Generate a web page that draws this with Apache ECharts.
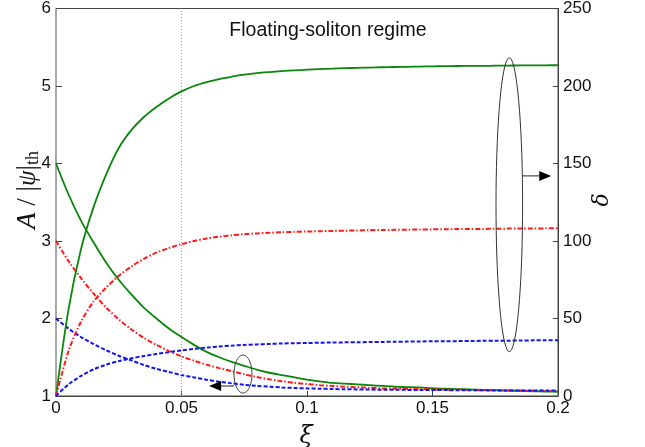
<!DOCTYPE html>
<html>
<head>
<meta charset="utf-8">
<title>Floating-soliton regime</title>
<script src="https://cdn.jsdelivr.net/npm/echarts@6/dist/echarts.min.js"></script>
<style>
  html, body { margin: 0; padding: 0; background: #fff; }
  #chart { width: 645px; height: 447px; }
</style>
</head>
<body>
<div id="chart"></div>
<script>
// Normalised detuning ξ
const xi = [0, 0.005, 0.01, 0.015, 0.02, 0.025, 0.03, 0.035, 0.04, 0.045,
            0.05, 0.055, 0.06, 0.065, 0.07, 0.075, 0.08, 0.085, 0.09, 0.095,
            0.1, 0.105, 0.11, 0.115, 0.12, 0.125, 0.13, 0.135, 0.14, 0.145,
            0.15, 0.155, 0.16, 0.165, 0.17, 0.175, 0.18, 0.185, 0.19, 0.195, 0.2];

// Amplitude A/|ψ|th (left axis)
const ampGreen = [4.00, 3.60, 3.26, 2.98, 2.72, 2.50, 2.31, 2.14, 2.00, 1.87,
                  1.76, 1.66, 1.57, 1.50, 1.44, 1.39, 1.34, 1.30, 1.27, 1.24,
                  1.21, 1.19, 1.17, 1.16, 1.15, 1.14, 1.13, 1.12, 1.115, 1.11,
                  1.10, 1.095, 1.09, 1.085, 1.08, 1.075, 1.07, 1.065, 1.06, 1.058, 1.055];
const ampRed   = [3.00, 2.74, 2.52, 2.32, 2.14, 1.99, 1.86, 1.75, 1.66, 1.58,
                  1.51, 1.455, 1.405, 1.36, 1.32, 1.28, 1.245, 1.215, 1.19, 1.17,
                  1.155, 1.14, 1.13, 1.12, 1.113, 1.106, 1.10, 1.096, 1.092, 1.088,
                  1.085, 1.082, 1.08, 1.078, 1.075, 1.073, 1.071, 1.07, 1.068, 1.066, 1.065];
const ampBlue  = [2.00, 1.87, 1.76, 1.67, 1.59, 1.52, 1.46, 1.40, 1.35, 1.31,
                  1.27, 1.24, 1.21, 1.185, 1.163, 1.145, 1.13, 1.12, 1.11, 1.104,
                  1.098, 1.094, 1.09, 1.087, 1.085, 1.083, 1.081, 1.08, 1.079, 1.078,
                  1.077, 1.076, 1.075, 1.074, 1.073, 1.072, 1.071, 1.071, 1.07, 1.07, 1.07];

// δ (right axis)
const deltaGreen = [0, 56, 95, 122, 143, 160, 171.5, 180, 186.5, 192,
                    196.5, 200, 202.5, 204.5, 206, 207.3, 208.3, 209, 209.6, 210.1,
                    210.5, 210.9, 211.2, 211.5, 211.7, 211.9, 212.1, 212.25, 212.4, 212.55,
                    212.7, 212.8, 212.9, 212.95, 213.0, 213.1, 213.2, 213.25, 213.3, 213.35, 213.4];
const deltaRed   = [0, 29, 48, 61, 70, 77.5, 83.5, 88.5, 92.5, 95.5,
                    98, 100, 101.6, 102.8, 103.7, 104.4, 104.9, 105.3, 105.6, 105.9,
                    106.1, 106.3, 106.5, 106.65, 106.8, 106.95, 107.1, 107.2, 107.3, 107.4,
                    107.5, 107.6, 107.7, 107.75, 107.8, 107.9, 108.0, 108.05, 108.1, 108.15, 108.2];
const deltaBlue  = [0, 7.5, 13, 17.2, 20.2, 22.5, 24.3, 25.8, 27.1, 28.3,
                    29.4, 30.4, 31.2, 31.9, 32.5, 32.95, 33.3, 33.6, 33.9, 34.05,
                    34.2, 34.35, 34.5, 34.6, 34.7, 34.8, 34.9, 35.0, 35.1, 35.2,
                    35.3, 35.35, 35.4, 35.5, 35.6, 35.65, 35.7, 35.8, 35.9, 35.95, 36];

// Tick settings
const xTicks = { min: 0, max: 0.2, interval: 0.05 };
const leftTicks = { min: 1, max: 6, interval: 1 };
const rightTicks = { min: 0, max: 250, interval: 50 };
const markedXi = 0.05;

const GREEN = '#0b860b', RED = '#ff1a1a', BLUE = '#1414f0';
const FONT = 'Liberation Sans, Arial, sans-serif';

const pairs = (ys) => xi.map((x, i) => [x, ys[i]]);

function lineSeries(name, ys, yIdx, color, type, width) {
  return {
    name, type: 'line', yAxisIndex: yIdx, data: pairs(ys),
    showSymbol: false, smooth: 0.3, z: 3,
    lineStyle: { color, width, type }
  };
}

const chart = echarts.init(document.getElementById('chart'), null, { renderer: 'canvas' });

const series = [
  lineSeries('A green', ampGreen, 0, GREEN, 'solid', 1.8),
  lineSeries('A red', ampRed, 0, RED, [5, 2, 1.5, 2], 2),
  lineSeries('A blue', ampBlue, 0, BLUE, [4, 2], 2),
  lineSeries('δ green', deltaGreen, 1, GREEN, 'solid', 1.8),
  lineSeries('δ red', deltaRed, 1, RED, [5, 2, 1.5, 2], 2),
  lineSeries('δ blue', deltaBlue, 1, BLUE, [4, 2], 2)
];
series[0].markLine = {
  silent: true, symbol: 'none', label: { show: false },
  lineStyle: { color: '#9a9a9a', width: 1, type: [1, 2] },
  data: [{ xAxis: markedXi }]
};

const axisLabel = { color: '#111', fontFamily: FONT, fontSize: 17 };

chart.setOption({
  animation: false,
  backgroundColor: '#fff',
  grid: { left: 56, right: 87, top: 7, bottom: 51, show: true, borderColor: '#444', borderWidth: 1 },
  xAxis: {
    type: 'value', min: xTicks.min, max: xTicks.max, interval: xTicks.interval,
    axisLine: { show: true, onZero: false, lineStyle: { color: '#444', width: 1 } },
    axisTick: { show: true, inside: true, length: 5, lineStyle: { color: '#444' } },
    axisLabel: Object.assign({ margin: 4 }, axisLabel),
    splitLine: { show: false }
  },
  yAxis: [
    {
      type: 'value', position: 'left', min: leftTicks.min, max: leftTicks.max, interval: leftTicks.interval,
      axisLine: { show: true, lineStyle: { color: '#a8a8a8', width: 2 } },
      axisTick: { show: true, inside: true, length: 6, lineStyle: { color: '#444' } },
      axisLabel: Object.assign({ margin: 5 }, axisLabel),
      splitLine: { show: false }
    },
    {
      type: 'value', position: 'right', min: rightTicks.min, max: rightTicks.max, interval: rightTicks.interval,
      axisLine: { show: true, lineStyle: { color: '#444', width: 1 } },
      axisTick: { show: true, inside: true, length: 5, lineStyle: { color: '#444' } },
      axisLabel: Object.assign({ margin: 5 }, axisLabel),
      splitLine: { show: false }
    }
  ],
  series
});

// Ellipse outline as a polygon around a pixel centre
function ellipsePoints(cx, cy, rx, ry) {
  const pts = [];
  for (let k = 0; k < 72; k++) {
    const t = (k / 72) * Math.PI * 2;
    pts.push([cx + rx * Math.cos(t), cy + ry * Math.sin(t)]);
  }
  return pts;
}

function arrow(x0, y, xTip) {
  const dir = Math.sign(xTip - x0);
  const head = 12, half = 5;
  return [
    { type: 'line', shape: { x1: x0, y1: y, x2: xTip - dir * head, y2: y },
      style: { stroke: '#222', lineWidth: 1 }, z: 10 },
    { type: 'polygon', shape: { points: [[xTip, y], [xTip - dir * head, y - half], [xTip - dir * head, y + half]] },
      style: { fill: '#000' }, z: 10 }
  ];
}

// Bracket around the amplitude curves (left axis) and around the δ curves (right axis)
const cSmall = chart.convertToPixel({ xAxisIndex: 0, yAxisIndex: 0 }, [0.0745, 1.283]);
const aSmall = chart.convertToPixel({ xAxisIndex: 0, yAxisIndex: 0 }, [0.061, 1.129]);
const cBig = chart.convertToPixel({ xAxisIndex: 0, yAxisIndex: 1 }, [0.1806, 123.4]);
const aBig = chart.convertToPixel({ xAxisIndex: 0, yAxisIndex: 1 }, [0.1973, 142]);
const rxSmall = 9, rySmall = 19, rxBig = 13.3, ryBig = 147;

const graphic = [
  { type: 'polygon', shape: { points: ellipsePoints(cSmall[0], cSmall[1], rxSmall, rySmall) },
    style: { fill: 'none', stroke: '#333', lineWidth: 1 }, z: 10 },
  ...arrow(cSmall[0] - rxSmall, aSmall[1], aSmall[0]),
  { type: 'polygon', shape: { points: ellipsePoints(cBig[0], cBig[1], rxBig, ryBig) },
    style: { fill: 'none', stroke: '#333', lineWidth: 1 }, z: 10 },
  ...arrow(cBig[0] + rxBig, aBig[1], aBig[0]),
  // Title inside the plot
  { type: 'text', x: 328, y: 31,
    style: { text: 'Floating-soliton regime', fill: '#111', font: '19.5px ' + FONT,
             align: 'center', verticalAlign: 'middle' }, z: 10 },
  // x axis name
  { type: 'text', x: 306, y: 437,
    style: { text: 'ξ', fill: '#111', font: 'italic 24px "DejaVu Serif", "Liberation Serif", serif',
             align: 'center', verticalAlign: 'middle' }, z: 10 },
  // left axis name
  { type: 'text', x: 28, y: 190, rotation: Math.PI / 2,
    style: {
      text: '{a|A}{n| / |}{p|ψ}{n||}{s|th}',
      align: 'center', verticalAlign: 'middle',
      rich: {
        a: { font: 'italic 27px "Liberation Serif", "DejaVu Serif", serif', fill: '#111' },
        n: { font: '27px "Liberation Serif", "DejaVu Serif", serif', fill: '#111' },
        p: { font: 'italic 25px "Liberation Serif", "DejaVu Serif", serif', fill: '#111' },
        s: { font: '18px "Liberation Serif", "DejaVu Serif", serif', fill: '#111', padding: [11, 0, 0, 0] }
      }
    }, z: 10 },
  // right axis name
  { type: 'text', x: 602, y: 200, rotation: Math.PI / 2,
    style: { text: 'δ', fill: '#111', font: 'italic 22px "DejaVu Serif", "Liberation Serif", serif',
             align: 'center', verticalAlign: 'middle' }, z: 10 }
];

chart.setOption({ graphic });
</script>
</body>
</html>
